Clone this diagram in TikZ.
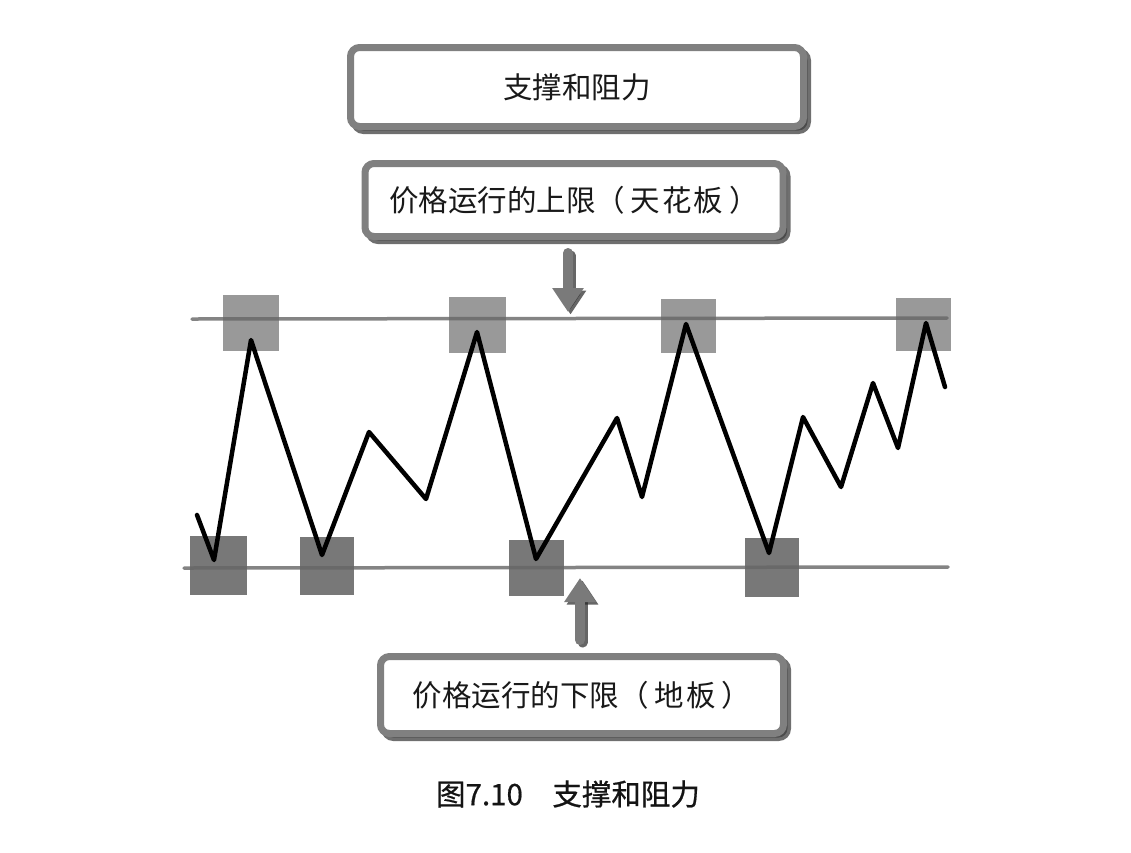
\documentclass[tikz,border=0pt]{standalone}
\usepackage{fontspec}
\newfontfamily\cjk{Noto Sans CJK SC}
\newfontfamily\cjkcap[FakeBold=0.6]{Noto Sans CJK SC}
\usetikzlibrary{arrows.meta,shadows}
\begin{document}
\begin{tikzpicture}[x=1pt,y=-1pt,
  box/.style={draw=black!50, line width=7pt, fill=white, rounded corners=9pt,
    inner sep=0pt, text=black!90, font=\cjk\fontsize{29.5}{32}\selectfont,
    drop shadow={shadow xshift=4pt, shadow yshift=-4pt, draw=black!75, fill=black!75, line width=7pt, opacity=0.75}},
  level/.style={draw=black!60, draw opacity=0.8, line width=3.5pt, line cap=round},
  topsq/.style={fill=black!40},
  botsq/.style={fill=black!53},
  price/.style={draw=black, line width=4.5pt, line join=round, line cap=round},
  pointer/.style={draw=black!52, line width=10pt, line cap=round, -{Triangle[width=30pt,length=24pt]}},
  pointershadow/.style={draw=black!85, opacity=0.7, line width=10pt, line cap=round, -{Triangle[width=30pt,length=24pt]}},
  caption/.style={text=black!92, font=\cjkcap\fontsize{29.5}{32}\selectfont}
]
\useasboundingbox (0,0) rectangle (1131,852);
\fill[white] (0,0) rectangle (1131,852);

% boxes
\node[box, minimum width=453pt, minimum height=79pt] (title) at (577,87) {支撑和阻力};
\node[box, minimum width=418pt, minimum height=73pt] (ceil) at (574,200) {价格运行的上限（\hspace{6pt}天\hspace{2pt}花\hspace{2pt}板\hspace{6pt}）};
\node[box, minimum width=403pt, minimum height=77pt] (floor) at (582,695) {价格运行的下限（\hspace{6pt}地\hspace{2pt}板\hspace{6pt}）};

% squares at top
\fill[topsq] (223,295) rectangle (279,351);
\fill[topsq] (449,297) rectangle (506,353);
\fill[topsq] (661,299) rectangle (716,353);
\fill[topsq] (896,298) rectangle (951,351);
% squares at bottom
\fill[botsq] (190,536) rectangle (247,595);
\fill[botsq] (300,537) rectangle (354,595);
\fill[botsq] (509,540) rectangle (564,596);
\fill[botsq] (745,538) rectangle (799,597);

% level lines
\coordinate (r1) at (192,319);
\coordinate (r2) at (947,318);
\coordinate (s1) at (184,568);
\coordinate (s2) at (948,567);
\draw[level] (r1) -- (r2);
\draw[level] (s1) -- (s2);

% price path
\draw[price] (197,515) -- (214,560) -- (251,340) -- (322,555) -- (369,432) -- (426,499)
  -- (477,332) -- (536,559) -- (617,418) -- (642,497) -- (686,324) -- (769,553)
  -- (803,417) -- (841,487) -- (873,383) -- (898,448) -- (926,323) -- (945,387);

% pointers
\coordinate (d1) at (568,253);
\coordinate (d2) at (568,312);
\coordinate (u1) at (580,640);
\coordinate (u2) at (580,578);
\draw[pointershadow, transform canvas={shift={(2.5pt,-2.5pt)}}] (d1) -- (d2);
\draw[pointer] (d1) -- (d2);
\draw[pointershadow, transform canvas={shift={(2.5pt,-2.5pt)}}] (u1) -- (u2);
\draw[pointer] (u1) -- (u2);

% caption
\node[caption] (cap) at (568,794) {图7.10　支撑和阻力};
\end{tikzpicture}
\end{document}
